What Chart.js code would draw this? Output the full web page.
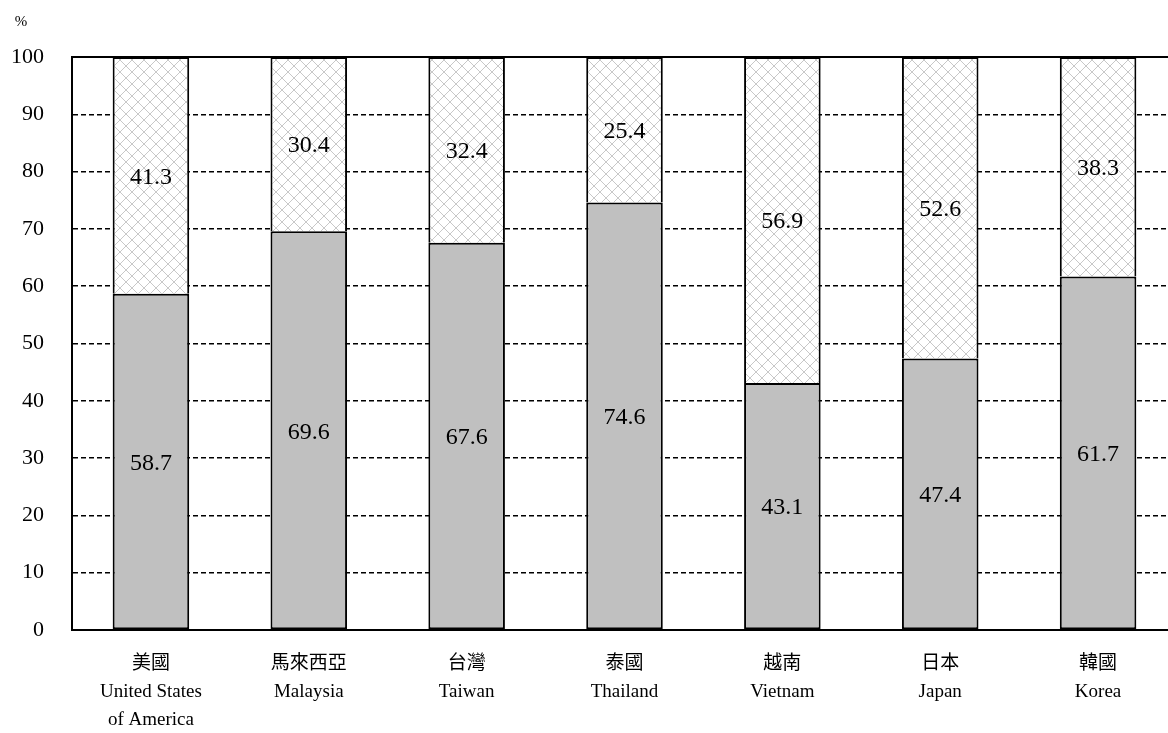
<!DOCTYPE html>
<html>
<head>
<meta charset="utf-8">
<script src="https://cdn.jsdelivr.net/npm/chart.js@4/dist/chart.umd.min.js"></script>
<style>
  html, body { margin: 0; padding: 0; background: #fff; overflow: hidden; }
  #wrap { width: 1180px; height: 733px; position: relative; }
</style>
</head>
<body>
<div id="wrap"><canvas id="c" width="1180" height="733"></canvas></div>
<script>
// Categories (Chinese name + English name lines)
const categories = [
  ['美國', 'United States', 'of America'],
  ['馬來西亞', 'Malaysia'],
  ['台灣', 'Taiwan'],
  ['泰國', 'Thailand'],
  ['越南', 'Vietnam'],
  ['日本', 'Japan'],
  ['韓國', 'Korea']
];
// Lower (solid grey) segment, %
const lowerShare = [58.7, 69.6, 67.6, 74.6, 43.1, 47.4, 61.7];
// Upper (cross-hatched) segment, %
const upperShare = [41.3, 30.4, 32.4, 25.4, 56.9, 52.6, 38.3];
// Y tick values
const yTicks = [0, 10, 20, 30, 40, 50, 60, 70, 80, 90, 100];

const FONT = "'Liberation Serif', 'Noto Sans CJK TC', serif";

// Light grey diamond lattice fill
function makeHatch() {
  const p = document.createElement('canvas');
  const n = 12;
  p.width = n; p.height = n;
  const g = p.getContext('2d');
  g.fillStyle = '#ffffff';
  g.fillRect(0, 0, n, n);
  g.fillStyle = '#c8c8c8';
  for (let i = 0; i < n; i++) {
    g.fillRect(i, i, 1, 1);
    g.fillRect(n - 1 - i, i, 1, 1);
  }
  return g.createPattern(p, 'repeat');
}
const ctx = document.getElementById('c').getContext('2d');
const hatch = makeHatch();

// Value text in the middle of each segment, plus the "%" unit and the top frame line
const overlay = {
  id: 'overlay',
  afterDatasetsDraw(chart) {
    const c = chart.ctx;
    c.save();
    c.font = '24px ' + FONT;
    c.fillStyle = '#000';
    c.textAlign = 'center';
    c.textBaseline = 'middle';
    chart.data.datasets.forEach((ds, di) => {
      chart.getDatasetMeta(di).data.forEach((bar, i) => {
        const y = (bar.y + bar.base) / 2;
        c.fillText(ds.data[i].toFixed(1), bar.x, y + 2);
      });
    });
    const ys = chart.scales.y;
    const top = ys.getPixelForValue(100);
    c.strokeStyle = '#000';
    c.lineWidth = 2;
    c.beginPath();
    c.moveTo(chart.chartArea.left, top);
    c.lineTo(chart.chartArea.right, top);
    c.stroke();
    c.font = '15px ' + FONT;
    c.fillText('%', 21, 22);
    c.restore();
  }
};

new Chart(ctx, {
  type: 'bar',
  data: {
    labels: categories,
    datasets: [
      {
        data: lowerShare,
        backgroundColor: '#c0c0c0',
        borderColor: '#000',
        borderWidth: 2,
        borderSkipped: false
      },
      {
        data: upperShare,
        backgroundColor: hatch,
        borderColor: '#000',
        borderWidth: 2,
        borderSkipped: 'start'
      }
    ]
  },
  options: {
    responsive: false,
    animation: false,
    events: [],
    categoryPercentage: 1,
    barPercentage: 0.485,
    layout: { padding: { top: 57, left: 0, right: 3, bottom: 0 } },
    plugins: { legend: { display: false }, tooltip: { enabled: false } },
    scales: {
      x: {
        stacked: true,
        grid: { display: false, drawTicks: false },
        border: { display: true, color: '#000', width: 2 },
        ticks: {
          color: '#000',
          padding: 20,
          maxRotation: 0,
          autoSkip: false,
          font: { family: FONT, size: 19, lineHeight: 1.48 }
        },
        afterFit(s) { s.height = 103; }
      },
      y: {
        stacked: true,
        min: 0,
        max: 100,
        afterBuildTicks(s) { s.ticks = yTicks.map(v => ({ value: v })); },
        grid: {
          color: '#000',
          lineWidth: 1.5,
          drawTicks: false
        },
        border: { display: true, color: '#000', width: 2, dash: [5, 3] },
        ticks: {
          color: '#000',
          padding: 28,
          font: { family: FONT, size: 22 }
        },
        afterFit(s) { s.width = 72; }
      }
    }
  },
  plugins: [overlay]
});
</script>
</body>
</html>
